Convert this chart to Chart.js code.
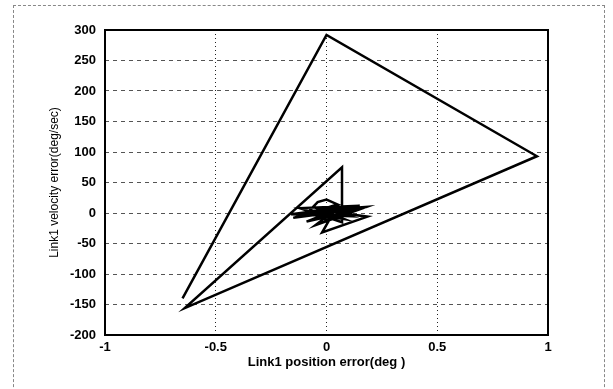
<!DOCTYPE html>
<html>
<head>
<meta charset="utf-8">
<script src="https://cdn.jsdelivr.net/npm/chart.js@4/dist/chart.umd.min.js"></script>
<style>
body{margin:0;background:#fff}
#wrap{position:relative;width:613px;height:389px;overflow:hidden}
#frame{position:absolute;left:13px;top:5px;width:590px;height:420px;border:1px dashed #888;pointer-events:none}
canvas{position:absolute;left:0;top:0}
</style>
</head>
<body>
<div id="wrap">
<canvas id="phase" width="613" height="389"></canvas>
<div id="frame"></div>
</div>
<script>
// phase trajectory: link1 position error vs velocity error
const posErr=[-0.65,0,0.95,-0.64,0.07,0.07,-0.12,0.15,-0.1,-0.04,0,0.05,-0.15,0.12,0,-0.08,0.18,-0.05,0.05,-0.16,0.1,-0.06,0.08,-0.1,0.04,-0.02,0.185,0.02,-0.09,0.08,0]
const velErr=[-140,292,93,-156,75,-15,8,12,-5,18,22,14,-8,5,-12,3,10,-20,8,-2,-5,10,-10,0,6,-32,-6,2,-14,0,4]

const xTicks=[-1,-0.5,0,0.5,1]
const yTicks=[300,250,200,150,100,50,0,-50,-100,-150,-200]

const xTitle="Link1 position error(deg )"
const yTitle="Link1 velocity error(deg/sec)"

let points=posErr.map((x,i)=>({x:x,y:velErr[i]}))

const frameBox={
id:"frameBox",
afterDraw(chart){
let a=chart.chartArea
let c=chart.ctx
c.save()
c.strokeStyle="#000"
c.lineWidth=2
c.strokeRect(a.left,a.top,a.right-a.left,a.bottom-a.top)
c.restore()
}
}

new Chart(document.getElementById("phase"),{
type:"scatter",
data:{
datasets:[{
data:points,
showLine:true,
borderColor:"#000",
borderWidth:2.5,
pointRadius:0,
tension:0,
fill:false
}]
},
options:{
responsive:false,
animation:false,
layout:{padding:{top:30,right:65,left:0,bottom:0}},
plugins:{legend:{display:false},tooltip:{enabled:false}},
scales:{
x:{
type:"linear",
min:-1,max:1,
afterBuildTicks:s=>{s.ticks=xTicks.map(v=>({value:v}))},
afterFit:s=>{s.height=54},
grid:{color:"#222",drawTicks:false},
border:{display:false,dash:[1,3]},
ticks:{
color:"#000",padding:5,
font:{family:"Liberation Sans",size:13,weight:"bold"},
callback:v=>String(v)
},
title:{
display:true,text:xTitle,color:"#000",
font:{family:"Liberation Sans",size:13,weight:"bold"},
padding:{top:0,bottom:19}
}
},
y:{
type:"linear",
min:-200,max:300,
afterBuildTicks:s=>{s.ticks=yTicks.map(v=>({value:v}))},
afterFit:s=>{s.width=105},
grid:{color:"#555",drawTicks:false},
border:{display:false,dash:[4,4]},
ticks:{
color:"#000",padding:9,
font:{family:"Liberation Sans",size:13,weight:"bold"},
callback:v=>String(v)
},
title:{
display:true,text:yTitle,color:"#000",
font:{family:"Liberation Sans",size:12},
padding:{top:47,bottom:0}
}
}
}
},
plugins:[frameBox]
})
</script>
</body>
</html>
